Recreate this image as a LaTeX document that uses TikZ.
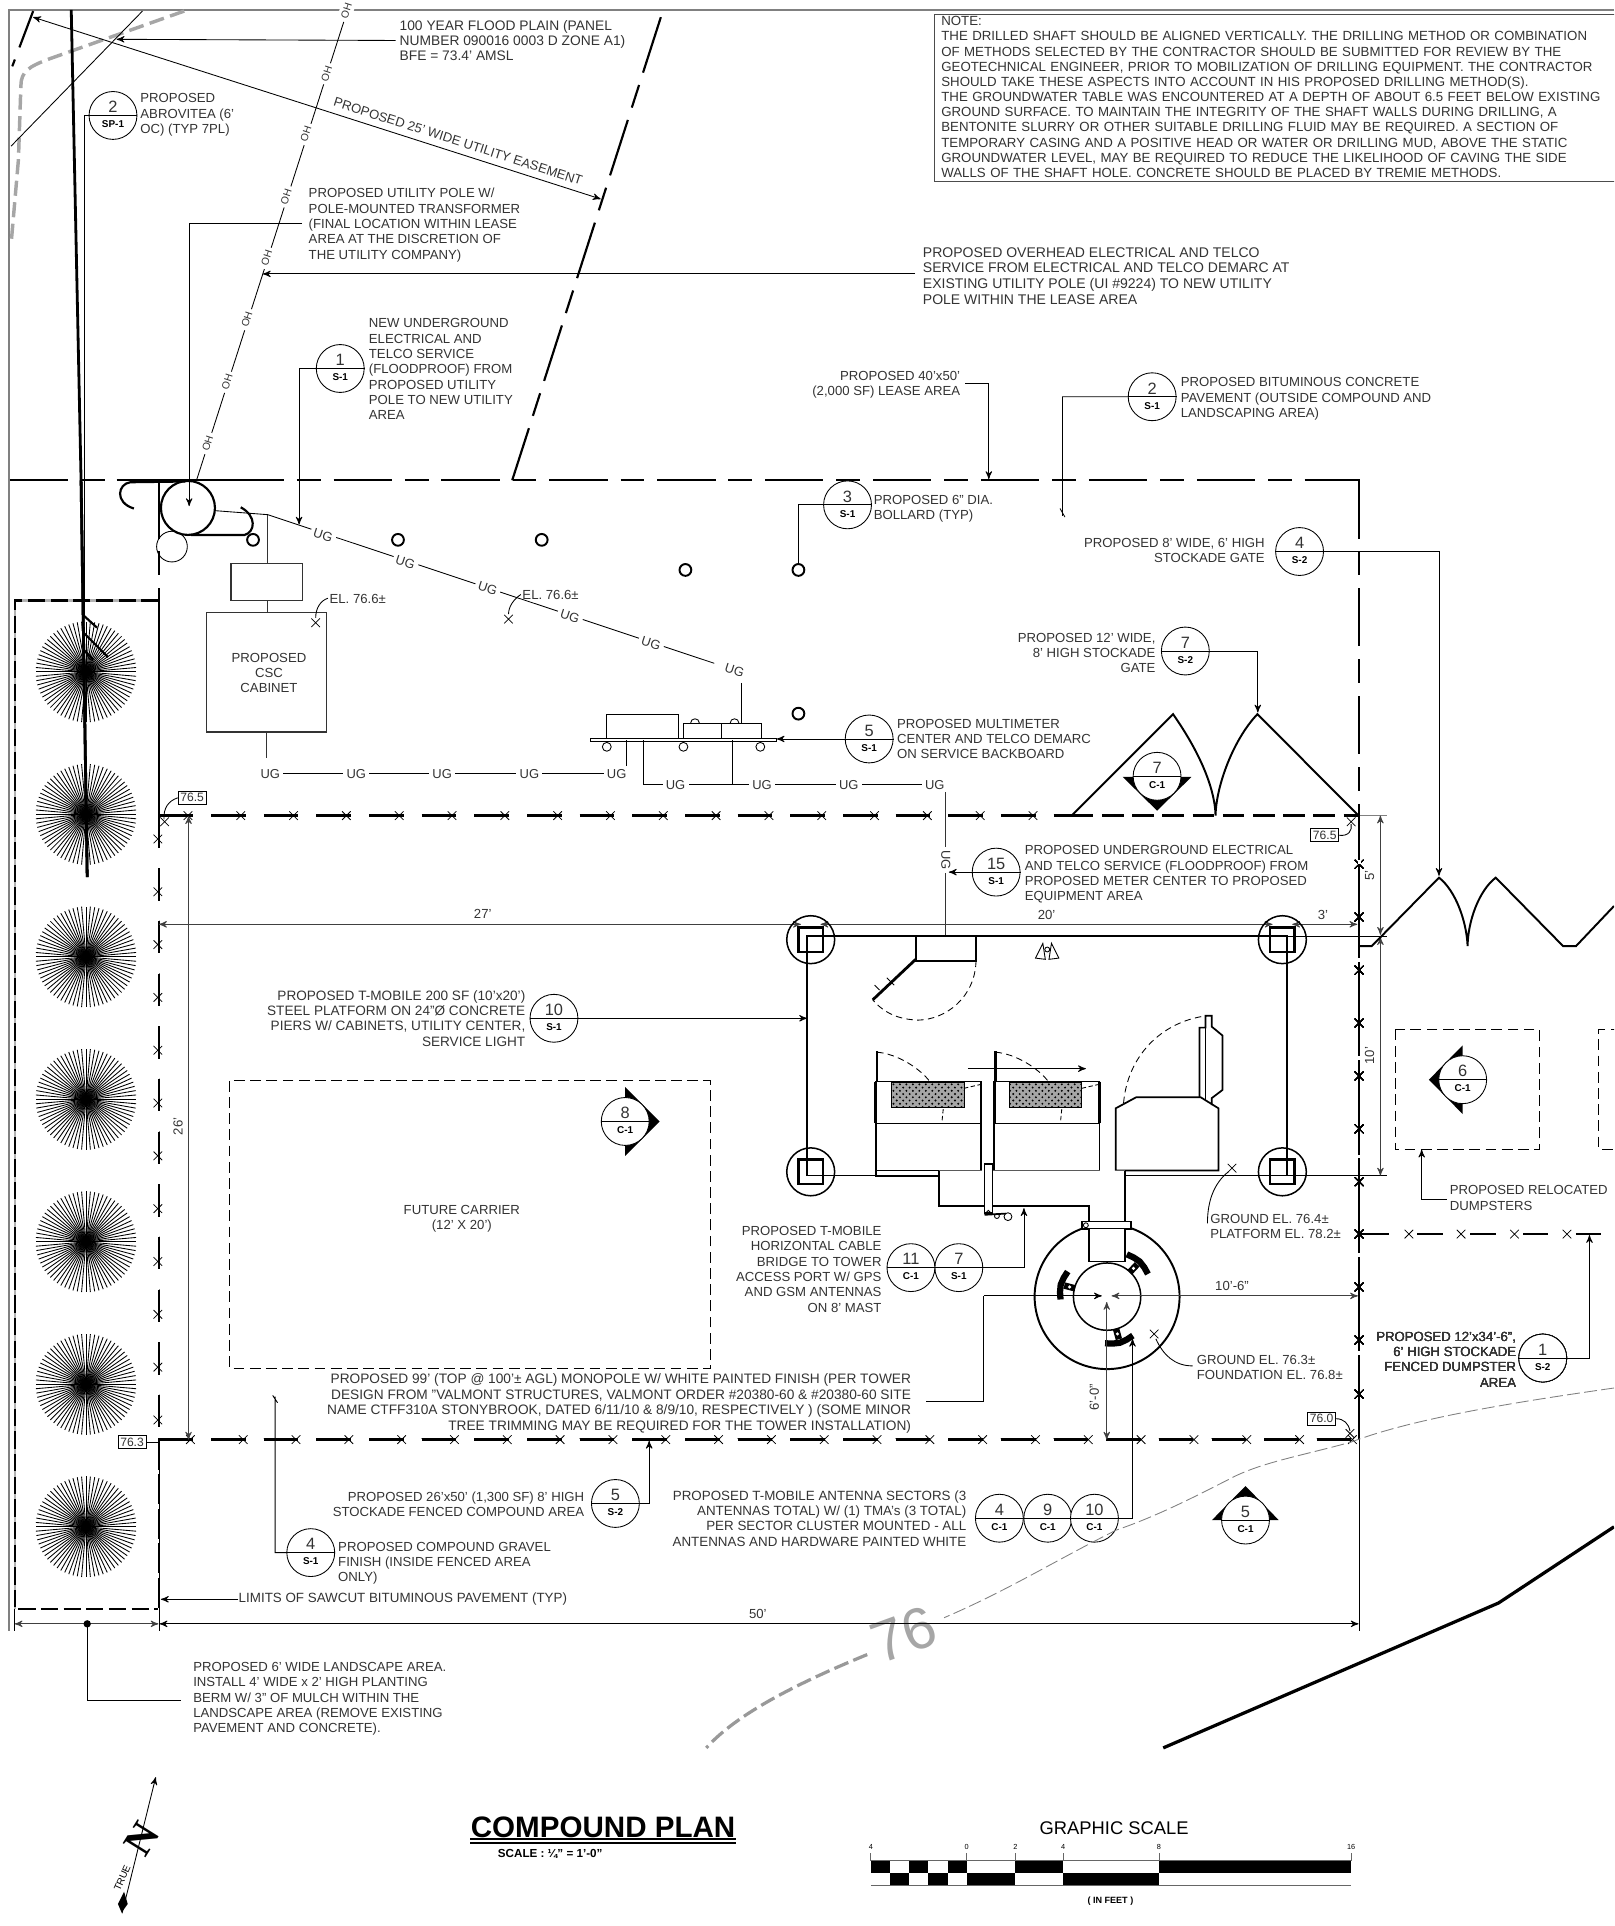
\documentclass[tikz,border=0pt]{standalone}
\usepackage{fontspec}
\setmainfont{Liberation Sans}
\newfontfamily\northfont{Liberation Serif}
\usetikzlibrary{arrows,patterns}

\newcommand{\xm}[2]{\draw[xline] (#1-3.5,#2-3.5) -- (#1+3.5,#2+3.5) (#1-3.5,#2+3.5) -- (#1+3.5,#2-3.5);}
\newcommand{\callout}[5]{%
  \node[bubble] (#1) at (#2,#3) {};
  \draw[lead] (#1.west) -- (#1.east);
  \node[bubnum] (#1n) at ([yshift=3.9pt]#1.center) {#4};
  \node[bubsheet] (#1s) at ([yshift=-4.1pt]#1.center) {#5};}

\begin{document}
\begin{tikzpicture}[x=0.02cm,y=-0.02cm,>=stealth',
    ltext/.style={font=\fontsize{6.1}{7.1}\selectfont,inner sep=0pt,align=left,anchor=north west,text=black!80},
    rtext/.style={ltext,align=right,anchor=north east},
    ctext/.style={ltext,align=center,anchor=center},
    onwhite/.style={font=\fontsize{6}{7}\selectfont,fill=white,inner sep=1.5pt,text=black!80},
    bubble/.style={circle,draw,fill=white,minimum size=0.78cm,inner sep=0pt},
    bubnum/.style={font=\fontsize{7.6}{8}\selectfont,inner sep=0pt,text=black!80},
    bubsheet/.style={font=\fontsize{4.6}{5}\selectfont\bfseries,inner sep=0pt},
    elbox/.style={font=\fontsize{5.6}{6}\selectfont,draw,fill=white,inner sep=1pt,text=black!80},
    lead/.style={line width=0.4pt},
    dimline/.style={line width=0.4pt,black!75,<->},
    xline/.style={line width=0.35pt},
    heavy/.style={line width=1pt},
    lease/.style={line width=1pt,dash pattern=on 27pt off 6pt on 11pt off 6pt},
    fenceline/.style={line width=1.1pt,dash pattern=on 16pt off 8.4pt},
    dashthin/.style={line width=0.4pt,dash pattern=on 3pt off 2pt},
    equip/.style={line width=0.8pt}]

  \useasboundingbox (0,0) rectangle (1314,1568);
  \clip (0,0) rectangle (1314,1568);

  \draw[black!50,line width=0.7pt] (1314,8) -- (7.5,8) -- (7.5,1328);

  \draw[black!35,line width=1.6pt,dash pattern=on 7pt off 3pt] (150,9) -- (40,48) .. controls (24,54) and (17,58) .. (17,70) -- (15,130) -- (9,199);
  \draw[lead] (116,9) -- (9,119);
  \draw[heavy,dash pattern=on 18pt off 6pt on 8pt off 6pt] (27,9) -- (10,54);
  \draw[heavy,dash pattern=on 27pt off 6pt on 11pt off 6pt] (538,14) -- (417,391);
  \draw[line width=1.3pt] (58,8) -- (66,391) -- (71,714);

  \draw[lead,<->] (27,14) -- (489,162);
  \node[ltext,anchor=center,rotate=-17.8,font=\fontsize{6.05}{7}\selectfont] (easement) at (373,115) {PROPOSED 25' WIDE UTILITY EASEMENT};

  \draw[lead] (160,391) -- (283,8);
  \foreach \x/\y [count=\i] in {282/9,266/60,249/109,233/160,217/210,201/260,185/311,169/361}
    \node[onwhite,rotate=72,font=\fontsize{4.8}{6}\selectfont] (oh\i) at (\x,\y) {OH};

  \node[ltext,font=\fontsize{6.4}{7.1}\selectfont] (flood) at (325,16) {100 YEAR FLOOD PLAIN (PANEL\\NUMBER 090016 0003 D ZONE A1)\\BFE = 73.4' AMSL};
  \draw[lead,->] (flood.west) ++(-3,0) -- (95,32);

  \callout{plant}{92}{94}{2}{SP-1}
  \node[ltext] (planttxt) at (114,76) {PROPOSED\\ABROVITEA (6'\\OC) (TYP 7PL)};
  \draw[lead] (plant.west) -- (68.5,94) -- (68.5,501);
  \draw[heavy] (68,501) -- (79,511) (68,515) -- (88,535) (68,529) -- (76,537);

  \draw[black!70,line width=0.5pt,fill=white] (1320,12) -- (761,12) -- (761,148) -- (1320,148);
  \node[ltext,text width=10.9cm,font=\fontsize{6.15}{7.03}\selectfont] (notes) at (766,13) {NOTE:\\
THE DRILLED SHAFT SHOULD BE ALIGNED VERTICALLY. THE DRILLING METHOD OR COMBINATION\\
OF METHODS SELECTED BY THE CONTRACTOR SHOULD BE SUBMITTED FOR REVIEW BY THE\\
GEOTECHNICAL ENGINEER, PRIOR TO MOBILIZATION OF DRILLING EQUIPMENT. THE CONTRACTOR\\
SHOULD TAKE THESE ASPECTS INTO ACCOUNT IN HIS PROPOSED DRILLING METHOD(S).\\
THE GROUNDWATER TABLE WAS ENCOUNTERED AT A DEPTH OF ABOUT 6.5 FEET BELOW EXISTING\\
GROUND SURFACE. TO  MAINTAIN THE INTEGRITY OF THE SHAFT WALLS DURING DRILLING, A\\
BENTONITE SLURRY OR OTHER SUITABLE DRILLING FLUID MAY BE REQUIRED. A SECTION OF\\
TEMPORARY CASING AND A POSITIVE HEAD OR WATER OR DRILLING MUD, ABOVE THE STATIC\\
GROUNDWATER LEVEL, MAY BE REQUIRED TO REDUCE THE LIKELIHOOD OF CAVING THE SIDE\\
WALLS OF THE SHAFT HOLE. CONCRETE SHOULD BE PLACED BY TREMIE METHODS.};

  \node[ltext] (poletxt) at (251,153) {PROPOSED UTILITY POLE W/\\POLE-MOUNTED TRANSFORMER\\(FINAL LOCATION WITHIN LEASE\\AREA AT THE DISCRETION OF\\THE UTILITY COMPANY)};
  \draw[lead,->] (246,182) -- (154,182) -- (154,412);
  \node[ltext,font=\fontsize{6.5}{7.3}\selectfont] (ohtxt) at (751,201) {PROPOSED OVERHEAD ELECTRICAL AND TELCO\\SERVICE FROM ELECTRICAL AND TELCO DEMARC AT\\EXISTING UTILITY POLE (UI \#9224) TO NEW UTILITY\\POLE WITHIN THE LEASE AREA};
  \draw[lead,->] (745,223) -- (214,223);

  \callout{ugsvc}{277}{300}{1}{S-1}
  \node[ltext] (ugsvctxt) at (300,259) {NEW UNDERGROUND\\ELECTRICAL AND\\TELCO SERVICE\\(FLOODPROOF) FROM\\PROPOSED UTILITY\\POLE TO NEW UTILITY\\AREA};
  \draw[lead,->] (ugsvc.west) -- (243.5,300) -- (243.5,427);

  \node[rtext] (leasetxt) at (782,302) {PROPOSED 40'x50'\\(2,000 SF) LEASE AREA};
  \draw[lead,->] (786,312) -- (805,312) -- (805,390);
  \callout{pave}{938}{323}{2}{S-1}
  \node[ltext] (pavetxt) at (961,307) {PROPOSED BITUMINOUS CONCRETE\\PAVEMENT (OUTSIDE COMPOUND AND\\LANDSCAPING AREA)};
  \draw[lead] (pave.west) -- (865,323) -- (865,420) (863,414) -- (867,421);

  \draw[lease] (8,391) -- (1107,391);
  \draw[heavy] (8,391) -- (44,391) (95,391) -- (203,391);
  \draw[lease] (1106.5,391) -- (1106.5,1172);
  \draw[lease] (129.5,391) -- (129.5,664);

  \draw[line width=1.1pt,black!30] (12,1310) -- (12,489) -- (129,489);
  \draw[line width=1.1pt,dash pattern=on 8pt off 2.5pt] (129,489) -- (12,489) -- (12,1310) -- (129,1310);
  \draw[line width=1.1pt,dash pattern=on 14pt off 2pt] (129.5,489) -- (129.5,664) (129.5,1172) -- (129.5,1310);

  \foreach \y in {547,663,779,895,1011,1127,1243} {
    \foreach \a in {0,5,...,355}
      \draw[line width=0.4pt] ([shift={(\a:1.5)}]70,\y) -- ([shift={(\a:41)}]70,\y);
    \fill (70,\y) circle[radius=4];
  }
  \draw[line width=1.3pt] (66,391) -- (71,714);

  \draw[heavy] (153,413.5) circle[radius=22];
  \draw[lead] (140,445) circle[radius=12.5];
  \draw[heavy] (151,392) -- (106,392.6) .. controls (96,394) and (93,409) .. (109,414);
  \draw[heavy] (155.6,435.6) -- (199,435.6) .. controls (208,433) and (209,420) .. (196,413);
  \draw[lead] (174.5,415.7) -- (218,419);

  \draw[lead] (218,419) -- (581.5,540);
  \foreach \x/\y [count=\i] in {263/436,330/458,397/479,464/502,530/524,598/546}
    \node[onwhite,rotate=-18] (ugd\i) at (\x,\y) {UG};
  \draw[lead] (603.6,556) -- (603.6,589);

  \node[ltext,anchor=west] (bollardlab) at (711,414) {PROPOSED 6" DIA.\\BOLLARD (TYP)};
  \callout{bollard}{690}{411}{3}{S-1}
  \draw[lead] (bollard.west) -- (650,411) -- (650,459);
  \foreach \x/\y [count=\i] in {206/439.5,324/439.5,441/439.5,558/464,650/464,650/581}
    \draw[line width=0.9pt] (\x,\y) circle[radius=4.8];

  \draw[lead,black!80] (218,419) -- (218,458.6);
  \draw[line width=0.55pt,black!80] (188,458.6) rectangle (246,488.6);
  \draw[lead,black!80] (218,488.6) -- (218,498.5);
  \draw[line width=0.55pt,black!80] (168,498.5) rectangle (266,596);
  \node[ctext] (csc) at (219,548) {PROPOSED\\CSC\\CABINET};
  \draw[lead,black!80] (217,596) -- (217,617);
  \xm{257}{507}
  \node[ltext,anchor=west] (el1) at (268,488) {EL. 76.6±};
  \draw[lead] (257,503) .. controls (257,495) and (261,489) .. (267,487);
  \xm{414}{504}
  \node[ltext,anchor=west] (el2) at (425,484) {EL. 76.6±};
  \draw[lead] (414,500) .. controls (414,494) and (418,488) .. (424,484);

  \draw[lead] (220,630) -- (502,630);
  \foreach \x [count=\i] in {220,290,360,431,502}
    \node[onwhite] (ugr\i) at (\x,630) {UG};
  \draw[lead] (510,602.5) -- (510,623.5);
  \draw[lead] (523.6,602.5) -- (523.6,639) -- (761,639);
  \foreach \x [count=\i] in {550,620.4,691,761}
    \node[onwhite] (ugs\i) at (\x,639) {UG};
  \draw[lead] (596,602.5) -- (596,639);
  \draw[lead] (480.8,601) -- (632.4,601) -- (632.4,603.5) -- (480.8,603.5) -- cycle;
  \draw[lead] (493.7,601) rectangle (552.7,581.3);
  \draw[lead] (556,601) rectangle (587.5,588.8);
  \draw[lead] (587.5,601) rectangle (619.5,588.8);
  \foreach \x in {494,556.4,619}
    \draw[lead] (\x,608) circle[radius=3.6];
  \foreach \x in {565.8,598}
    \draw[lead] (\x-3.6,588.8) .. controls (\x-3.6,584) and (\x+3.6,584) .. (\x+3.6,588.8);
  \callout{meter}{707.6}{601.6}{5}{S-1}
  \node[ltext] (metertxt) at (730,585) {PROPOSED MULTIMETER\\CENTER AND TELCO DEMARC\\ON SERVICE BACKBOARD};
  \draw[lead,->] (meter.west) -- (632.4,601.6);

  \draw[line width=0.9pt] (872.5,664) -- (955,581.4) .. controls (975,610) and (989,640) .. (989.6,664) .. controls (990,640) and (1004,602) .. (1023.7,581.4) -- (1106,664);
  \fill (914,632.5) -- (970,632.5) -- (942,660) -- cycle;
  \callout{secseven}{942}{632}{7}{C-1}
  \callout{gatetwelve}{965}{530}{7}{S-2}
  \node[rtext] (gatetwelvetxt) at (941,515) {PROPOSED 12' WIDE,\\8' HIGH STOCKADE\\GATE};
  \draw[lead,->] (gatetwelve.east) -- (1024,530) -- (1024,580);
  \callout{gateeight}{1058}{449}{4}{S-2}
  \node[rtext] (gateeighttxt) at (1030,438) {PROPOSED 8' WIDE, 6' HIGH\\STOCKADE GATE};
  \draw[lead,->] (gateeight.east) -- (1171.5,449) -- (1171.5,713);

  \draw[fenceline] (129,664) -- (872.5,664);
  \draw[line width=1.1pt,dash pattern=on 10pt off 4pt] (872.5,664) -- (1106,664);
  \foreach \x in {153,196,...,841} \xm{\x}{664}
  \draw[line width=1.1pt,dash pattern=on 15pt off 9.4pt] (129.5,664) -- (129.5,1172);
  \foreach \y in {683,726,769,812,855,898,941,984,1027,1070,1113,1156} \xm{128.5}{\y}
  \draw[fenceline] (129,1172) -- (1106.5,1172);
  \foreach \x in {155,198,...,1101} \xm{\x}{1172}
  \foreach \y in {703.6,746.6,789.8,832.8,875.9,919,962,1004.7,1047.7,1091,1135} \xm{1106.5}{\y}
  \draw[line width=1.1pt] (1106.5,664) -- (1106.5,1172);
  \foreach \y in {700,780,860,940,1020,1100} \draw[white,line width=1.4pt] (1106.5,\y) -- (1106.5,\y+3);

  \node[elbox] (elnw) at (156.4,649.5) {76.5};
  \xm{134}{669}
  \draw[lead] (elnw.west) .. controls (137,652) and (133,658) .. (133.5,667);
  \node[elbox] (elne) at (1078.5,680) {76.5};
  \xm{1100}{669}
  \draw[lead] (elne.east) .. controls (1098,681) and (1101,676) .. (1100,671);
  \node[elbox] (elsw) at (107.5,1174) {76.3};
  \draw[lead] (elsw.east) -- (129,1174);
  \node[elbox] (else) at (1076,1155) {76.0};
  \xm{1099}{1167}
  \draw[lead] (else.east) .. controls (1094,1155) and (1098,1159) .. (1099,1165);

  \draw[lead,black!80] (770,645) -- (770,762);
  \node[onwhite,rotate=-90] (ugv) at (770,700) {UG};
  \callout{ugequip}{811}{710}{15}{S-1}
  \node[ltext] (ugequiptxt) at (834,688) {PROPOSED UNDERGROUND ELECTRICAL\\AND TELCO SERVICE (FLOODPROOF) FROM\\PROPOSED METER CENTER TO PROPOSED\\EQUIPMENT AREA};
  \draw[lead,->] (ugequip.west) -- (772.5,710);

  \draw[dimline] (129.5,752.5) -- (652,752.5);
  \draw[dimline] (668,752.5) -- (1036,752.5);
  \draw[dimline] (1052,752.5) -- (1105,752.5);
  \node[ctext] (dtwentyseven) at (393,744) {27'};
  \node[ctext] (dtwenty) at (852,745) {20'};
  \node[ctext] (dthree) at (1077,745) {3'};

  \draw[equip] (657,762) rectangle (1047.6,957);
  \foreach \x/\y [count=\i] in {660/765,1044/765,660/954,1044/954} {
    \draw[line width=0.7pt] (\x,\y) circle[radius=19.5];
    \draw[line width=1.1pt] (\x-10,\y-10) rectangle (\x+10,\y+10);
  }
  \draw[lead] (1047.6,762) -- (1129,762) (1047.6,957) -- (1129,957);
  \draw[lead,black!50] (1107,664) -- (1129,664);
  \draw[dimline] (1123.8,664) -- (1123.8,761);
  \draw[dimline] (1123.8,763) -- (1123.8,957);
  \node[ctext,rotate=90] (dfive) at (1115,713) {5'};
  \node[ctext,rotate=90] (dten) at (1115,859.5) {10'};

  \draw[equip,fill=white] (745.5,762) rectangle (794.6,782.4);
  \draw[line width=1.3pt] (745.5,781) -- (710.5,814);
  \draw[lead] (722,796) -- (728,802) (716,806) -- (712,802);
  \draw[dashthin] (794.6,782) .. controls (794,812) and (770,830) .. (747.6,830.5) .. controls (732,830) and (720,825) .. (710.5,814);
  \draw[lead] (843,780) -- (849,768) -- (851,781) -- cycle (862,780) -- (856,768) -- (854,781) -- cycle;
  \draw[lead] (852.6,773) circle[radius=2];

  \foreach \x/\h in {713/725.8,809.5/821.7} {
    \draw[equip] (\x,880.5) rectangle (\x+85.7,957.4);
    \draw[equip] (\x,914.6) -- (\x+85.7,914.6);
    \draw[lead] (\x,953) -- (\x+85.7,953);
    \draw[line width=1.3pt] (\x+1,880.5) -- (\x+1,856);
    \draw[line width=1.3pt] (\x,880.5) -- (\x,914.6) (\x+85.7,880.5) -- (\x+85.7,914.6);
    \fill[black!35] (\h,881.5) rectangle (\h+59,901.7);
    \path[pattern=crosshatch dots,pattern color=black] (\h,881.5) rectangle (\h+59,901.7);
    \draw[lead] (\h,881.5) rectangle (\h+59,901.7);
    \draw[dashthin] (\x+1,856.6) .. controls (\x+18,858) and (\x+36,870) .. (\x+44,880.5);
    \draw[lead,dash pattern=on 2pt off 1.2pt] (\x+54,912) -- (\x+55,902);
    \draw[lead,dash pattern=on 2pt off 1.2pt] (\h+59,886) -- (\h+72,883);
  }
  \draw[lead,->] (788,870) -- (884,870);

  \draw[equip,fill=white] (908.3,953) -- (908.3,902.3) -- (925,893.3) -- (977.5,893.3) -- (992,902.3) -- (992,953) -- cycle;
  \draw[equip] (976.5,893.3) -- (976.5,836.6) -- (981.4,836.6) -- (981.4,827) -- (986.5,827) -- (986.5,835.8) -- (995.2,843) -- (995.2,887.4) -- (986.5,894) -- (986.5,899.6);
  \draw[lead] (981.4,836.6) -- (981.4,896);
  \draw[dashthin] (914.7,898) .. controls (918,860) and (945,832) .. (982,827);

  \draw[equip,fill=white] (764.5,953) -- (764.5,981.8) -- (886.6,981.8) -- (886.6,1027) -- (915.7,1027) -- (915.7,953);
  \draw[equip,fill=white] (801.5,947.7) rectangle (808,987.7);
  \draw[equip] (801.5,989) -- (819,988);
  \draw[lead] (811.6,990) circle[radius=2];
  \draw[lead] (820.6,990.5) circle[radius=3.2];
  \draw[lead] (804.7,987) circle[radius=1.6];

  \coordinate (tower) at (901.3,1055.6);
  \draw[line width=0.9pt] (tower) circle[radius=59];
  \draw[line width=0.7pt,fill=white] (tower) circle[radius=27.4];
  \draw[equip,fill=white] (881,994.5) rectangle (921,1000.5);
  \draw[lead] (884,997.5) circle[radius=2];
  \draw[equip,fill=white] (886.6,1000.5) -- (886.6,1027) -- (915.7,1027) -- (915.7,1000.5);
  \foreach \a in {-47,194.5,74.5} {
    \draw[line width=3pt] ([shift={(\a:27)}]tower) -- ([shift={(\a:36)}]tower);
    \draw[line width=2.9pt] ([shift={(\a-18:38)}]tower) -- ([shift={(\a-9:38.5)}]tower) -- ([shift={(\a:39)}]tower) -- ([shift={(\a+9:38.5)}]tower) -- ([shift={(\a+18:38)}]tower);
    \fill[white] ([shift={(\a:31.5)}]tower) circle[radius=1.4];
  }
  \draw[lead] (754,1141) -- (801,1141) -- (801,1055);
  \draw[lead,->] (801,1055) -- (897,1055);
  \draw[dimline] (905,1055) -- (1105.5,1055);
  \node[ctext] (dtenhalf) at (1003,1047) {10'-6"};
  \draw[dimline] (901,1060) -- (901,1172);
  \node[ctext,rotate=90] (dsix) at (891,1137.5) {6'-0"};
  \xm{1003}{951}
  \node[ltext] (plattxt) at (985,988) {GROUND EL. 76.4±\\PLATFORM EL. 78.2±};
  \draw[lead] (1000,954) .. controls (990,962) and (983,975) .. (983,996);
  \xm{939.6}{1086}
  \node[ltext] (foundtxt) at (974,1103) {GROUND EL. 76.3±\\FOUNDATION EL. 76.8±};
  \draw[lead] (941,1090) .. controls (947,1103) and (956,1112) .. (971,1112);

  \callout{platform}{451}{829}{10}{S-1}
  \node[rtext,font=\fontsize{6.3}{7.1}\selectfont] (platformtxt) at (428,806) {PROPOSED T-MOBILE 200 SF (10'x20')\\STEEL PLATFORM ON 24"Ø CONCRETE\\PIERS W/ CABINETS, UTILITY CENTER,\\SERVICE LIGHT};
  \draw[lead,->] (platform.east) -- (657,829);

  \draw[dimline] (153.5,664.5) -- (153.5,1172);
  \node[ctext,rotate=90] (dtwentysix) at (145,917) {26'};

  \draw[line width=0.45pt,dash pattern=on 5pt off 2.5pt] (187,880) rectangle (578.5,1114);
  \node[ctext] (future) at (376,992) {FUTURE CARRIER\\(12' X 20')};
  \fill (509,885) -- (537,913) -- (509,941) -- cycle;
  \callout{seceight}{509}{913}{8}{C-1}

  \draw[line width=0.45pt,dash pattern=on 5pt off 2.5pt] (1135.7,838.2) rectangle (1253,935.8);
  \draw[line width=0.45pt,dash pattern=on 5pt off 2.5pt] (1320,838.2) -- (1301.7,838.2) -- (1301.7,935.8) -- (1320,935.8);
  \fill (1190.8,851) -- (1163.3,879) -- (1190.8,907) -- cycle;
  \callout{secsix}{1190.8}{879}{6}{C-1}
  \node[ltext] (dumpsters) at (1180,965) {PROPOSED RELOCATED\\DUMPSTERS};
  \draw[lead,->] (1178,976.3) -- (1157.4,976.3) -- (1157.4,936);

  \draw[line width=0.9pt] (1106.6,770.3) -- (1116.7,770.3) -- (1171.5,714.5) .. controls (1185,725) and (1194,750) .. (1194.8,770.3) .. controls (1195,750) and (1204,725) .. (1217.7,714.5) -- (1272.6,770.3) -- (1283,770.3) -- (1314,737.6);

  \draw[heavy] (1107,1004.7) -- (1131,1004.7) (1154,1004.7) -- (1174.5,1004.7) (1197,1004.7) -- (1217.6,1004.7) (1240,1004.7) -- (1260,1004.7) (1283,1004.7) -- (1303,1004.7);
  \foreach \x in {1147,1189.5,1233,1275.7} \xm{\x}{1004.7}
  \callout{dumpfence}{1256}{1105.6}{1}{S-2}
  \node[rtext] (dumpfencetxt) at (1234.6,1084) {PROPOSED 12'x34'-6",\\6' HIGH STOCKADE\\FENCED DUMPSTER\\AREA};
  \draw[lead,->] (dumpfence.east) -- (1294,1105.6) -- (1294,1005.5);

  \node[rtext,font=\fontsize{6.35}{7.2}\selectfont] (monopole) at (742,1118) {PROPOSED 99' (TOP @ 100'± AGL) MONOPOLE W/ WHITE PAINTED FINISH (PER TOWER\\DESIGN FROM "VALMONT STRUCTURES, VALMONT ORDER \#20380-60 \& \#20380-60 SITE\\NAME CTFF310A STONYBROOK, DATED 6/11/10 \& 8/9/10, RESPECTIVELY ) (SOME MINOR\\TREE TRIMMING MAY BE REQUIRED FOR THE TOWER INSTALLATION)};

  \callout{cabletwo}{780.6}{1032}{7}{S-1}
  \callout{cableone}{741.6}{1032}{11}{C-1}
  \node[rtext] (cabletxt) at (718,998) {PROPOSED T-MOBILE\\HORIZONTAL CABLE\\BRIDGE TO TOWER\\ACCESS PORT W/ GPS\\AND GSM ANTENNAS\\ON 8' MAST};
  \draw[lead,->] (cabletwo.east) -- (833.6,1032) -- (833.6,983.6);

  \callout{ant}{813.6}{1236}{4}{C-1}
  \callout{antb}{853}{1236}{9}{C-1}
  \callout{antc}{891}{1236}{10}{C-1}
  \node[rtext,font=\fontsize{6.2}{7.1}\selectfont] (anttxt) at (787,1213) {PROPOSED T-MOBILE ANTENNA SECTORS (3\\ANTENNAS TOTAL) W/ (1) TMA's (3 TOTAL)\\PER SECTOR CLUSTER MOUNTED - ALL\\ANTENNAS AND HARDWARE PAINTED WHITE};
  \draw[lead,->] (antc.east) -- (922,1236) -- (922,1090);

  \callout{fenced}{501}{1224}{5}{S-2}
  \node[rtext] (fencedtxt) at (476,1214) {PROPOSED 26'x50' (1,300 SF) 8' HIGH\\STOCKADE FENCED COMPOUND AREA};
  \draw[lead,->] (fenced.east) -- (528.5,1224) -- (528.5,1173);

  \callout{gravel}{253}{1264}{4}{S-1}
  \node[ltext] (graveltxt) at (275,1255) {PROPOSED COMPOUND GRAVEL\\FINISH (INSIDE FENCED AREA\\ONLY)};
  \draw[lead] (gravel.west) -- (224,1264) -- (224,1137) (222,1136) -- (226,1142);

  \fill (986.7,1237.5) -- (1014,1209.8) -- (1041,1237.5) -- cycle;
  \callout{secfive}{1014}{1237.5}{5}{C-1}

  \node[ltext,anchor=west,font=\fontsize{6.2}{7.1}\selectfont] (sawcut) at (194,1302) {LIMITS OF SAWCUT BITUMINOUS PAVEMENT (TYP)};
  \draw[lead,->] (sawcut.west) -- (131,1302);

  \draw[black!50,line width=0.4pt,dash pattern=on 6pt off 2pt] (1314,1130) .. controls (1230,1142) and (1150,1155) .. (1100,1174) .. controls (1060,1185) and (1030,1190) .. (1005,1202) .. controls (970,1220) and (940,1235) .. (908.7,1245.7) .. controls (860,1270) and (820,1295) .. (768.6,1317);
  \draw[black!40,line width=1.5pt,dash pattern=on 7pt off 2.5pt] (706,1347) .. controls (650,1370) and (600,1395) .. (575,1423);
  \node[font=\fontsize{27}{30}\selectfont,text=black!35,rotate=20,inner sep=0pt] (contour) at (736,1331) {76};

  \draw[lead] (129.5,1172) -- (129.5,1328) (12,1310) -- (12,1328) (1106.5,1172) -- (1106.5,1328);
  \draw[dimline] (12,1322) -- (129,1322);
  \draw[lead,<->] (130,1322) -- (1106,1322);
  \node[ctext] (dfifty) at (617,1314) {50'};
  \fill (71,1322) circle[radius=3];
  \node[ltext] (landscape) at (157,1353) {PROPOSED 6' WIDE LANDSCAPE AREA.\\INSTALL 4' WIDE x 2' HIGH PLANTING\\BERM W/ 3" OF MULCH WITHIN THE\\LANDSCAPE AREA (REMOVE EXISTING\\PAVEMENT AND CONCRETE).};
  \draw[lead] (71,1322) -- (71,1384) -- (147,1384);

  \draw[line width=1.5pt] (947,1423) -- (1220,1305) -- (1314,1243);

  \draw[lead,<-,>=stealth'] (126.8,1446.8) -- (99.4,1557.6);
  \fill (101,1540) -- (104,1550) -- (99,1557) -- (96,1550) -- cycle;
  \node[font=\northfont\fontsize{19}{20}\selectfont\bfseries,rotate=58,inner sep=0pt] (north) at (115.5,1497) {N};
  \node[font=\fontsize{4.6}{6}\selectfont,rotate=66,inner sep=0pt] (true) at (99.5,1529) {TRUE};

  \node[font=\fontsize{13.7}{15}\selectfont\bfseries,inner sep=0pt] (title) at (491,1488) {COMPOUND PLAN};
  \draw[line width=0.9pt] (383,1497.5) -- (599,1497.5) (383,1500.5) -- (599,1500.5);
  \node[font=\fontsize{5.4}{6}\selectfont\bfseries,inner sep=0pt,anchor=west] (scale) at (405,1509) {SCALE : ¼" = 1'-0"};

  \node[font=\fontsize{8.5}{9}\selectfont,inner sep=0pt] (graphic) at (907,1488) {GRAPHIC SCALE};
  \foreach \x/\w in {709/15.6,740.2/15.6,771.4/15.6,826.7/38.9,943.5/156.5}
    \fill (\x,1515) rectangle (\x+\w,1525);
  \foreach \x/\w in {724.6/15.6,755.8/15.6,787/39.7,865.6/77.9}
    \fill (\x,1525) rectangle (\x+\w,1534.7);
  \draw[lead,black!60] (709,1515) -- (1100,1515) (709,1534.7) -- (1100,1534.7) (709,1508.6) -- (709,1515) (787,1508.6) -- (787,1515) (826.7,1508.6) -- (826.7,1515) (865.6,1508.6) -- (865.6,1515) (943.5,1508.6) -- (943.5,1515) (1100,1508.6) -- (1100,1515);
  \foreach \x/\t [count=\i] in {709/4,787/0,826.7/2,865.6/4,943.5/8,1100/16}
    \node[font=\fontsize{3.4}{4}\selectfont,inner sep=0pt] (tick\i) at (\x,1504) {\t};
  \node[font=\fontsize{4.2}{5}\selectfont\bfseries,inner sep=0pt] (infeet) at (904,1548) {( IN FEET )};
\end{tikzpicture}
\end{document}
